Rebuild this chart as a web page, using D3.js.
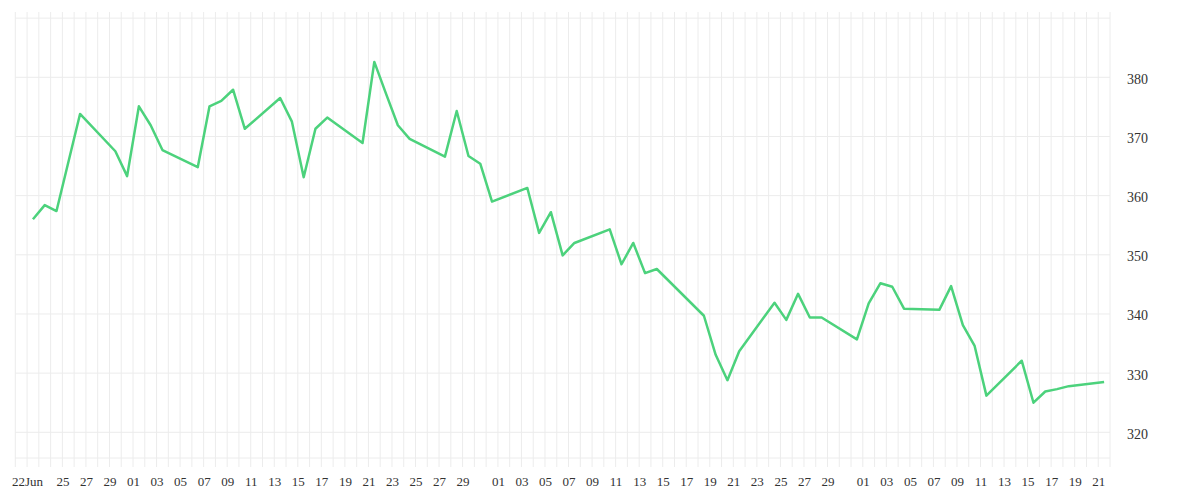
<!DOCTYPE html>
<html>
<head>
<meta charset="utf-8">
<script src="https://cdn.jsdelivr.net/npm/d3@7"></script>
<style>
  body { margin: 0; background: #fff; }
  text { font-family: "Liberation Serif", serif; fill: #333; }
</style>
</head>
<body>
<svg width="1200" height="500"></svg>
<script>
const dates = [
  "2020-06-22", "2020-06-23", "2020-06-24", "2020-06-26", "2020-06-29", "2020-06-30",
  "2020-07-01", "2020-07-02", "2020-07-03", "2020-07-06", "2020-07-07", "2020-07-08",
  "2020-07-09", "2020-07-10", "2020-07-13", "2020-07-14", "2020-07-15", "2020-07-16",
  "2020-07-17", "2020-07-20", "2020-07-21", "2020-07-22", "2020-07-23", "2020-07-24",
  "2020-07-27", "2020-07-28", "2020-07-29", "2020-07-30", "2020-07-31", "2020-08-03",
  "2020-08-04", "2020-08-05", "2020-08-06", "2020-08-07", "2020-08-10", "2020-08-11",
  "2020-08-12", "2020-08-13", "2020-08-14", "2020-08-18", "2020-08-19", "2020-08-20",
  "2020-08-21", "2020-08-24", "2020-08-25", "2020-08-26", "2020-08-27", "2020-08-28",
  "2020-08-31", "2020-09-01", "2020-09-02", "2020-09-03", "2020-09-04", "2020-09-07",
  "2020-09-08", "2020-09-09", "2020-09-10", "2020-09-11", "2020-09-14", "2020-09-15",
  "2020-09-16", "2020-09-17", "2020-09-18", "2020-09-21"
];

const prices = [
  356.0, 358.4, 357.4, 373.8, 367.5, 363.3,
  375.1, 371.9, 367.7, 364.8, 375.1, 376.0,
  377.9, 371.3, 376.5, 372.5, 363.1, 371.3,
  373.2, 368.9, 382.6, 377.2, 371.9, 369.6,
  366.6, 374.3, 366.7, 365.4, 359.0, 361.3,
  353.7, 357.2, 349.9, 352.0, 354.3, 348.4,
  352.0, 346.9, 347.6, 339.7, 333.1, 328.8,
  333.7, 341.9, 339.0, 343.4, 339.4, 339.4,
  335.7, 341.8, 345.2, 344.6, 340.9, 340.7,
  344.7, 338.1, 334.6, 326.2, 332.1, 325.0,
  326.9, 327.3, 327.8, 328.5
];

const xTickDates = [
  "2020-06-22", "2020-06-25", "2020-06-27", "2020-06-29",
  "2020-07-01", "2020-07-03", "2020-07-05", "2020-07-07", "2020-07-09", "2020-07-11",
  "2020-07-13", "2020-07-15", "2020-07-17", "2020-07-19", "2020-07-21", "2020-07-23",
  "2020-07-25", "2020-07-27", "2020-07-29",
  "2020-08-01", "2020-08-03", "2020-08-05", "2020-08-07", "2020-08-09", "2020-08-11",
  "2020-08-13", "2020-08-15", "2020-08-17", "2020-08-19", "2020-08-21", "2020-08-23",
  "2020-08-25", "2020-08-27", "2020-08-29",
  "2020-09-01", "2020-09-03", "2020-09-05", "2020-09-07", "2020-09-09", "2020-09-11",
  "2020-09-13", "2020-09-15", "2020-09-17", "2020-09-19", "2020-09-21"
];

const yTickValues = [320, 330, 340, 350, 360, 370, 380];
const yGridValues = [320, 330, 340, 350, 360, 370, 380, 390];

const parseDay = d3.timeParse("%Y-%m-%d");
const svg = d3.select("svg");

const startDay = parseDay("2020-06-21");
const endDay = parseDay("2020-09-22");

const x = d3.scaleTime().domain([startDay, endDay]).range([15.3, 1110]);
const y = d3.scaleLinear().domain([320, 380]).range([432.3, 77.3]);

const gridColor = "#ececec";

// vertical day lines
svg.append("g")
  .selectAll("line")
  .data(d3.timeDay.range(startDay, d3.timeDay.offset(endDay, 1)))
  .enter()
  .append("line")
  .attr("x1", d => x(d))
  .attr("x2", d => x(d))
  .attr("y1", 12)
  .attr("y2", 467)
  .attr("stroke", gridColor)
  .attr("stroke-width", 1);

// horizontal value lines
svg.append("g")
  .selectAll("line")
  .data(yGridValues)
  .enter()
  .append("line")
  .attr("x1", x(startDay))
  .attr("x2", x(endDay))
  .attr("y1", d => y(d))
  .attr("y2", d => y(d))
  .attr("stroke", gridColor)
  .attr("stroke-width", 1);

svg.append("line")
  .attr("x1", x(startDay))
  .attr("x2", x(endDay))
  .attr("y1", 458)
  .attr("y2", 458)
  .attr("stroke", gridColor);

const points = dates.map((d, i) => ({
  date: d3.timeHour.offset(parseDay(d), 12),
  value: prices[i]
}));

const line = d3.line()
  .x(d => x(d.date))
  .y(d => y(d.value));

svg.append("path")
  .datum(points)
  .attr("fill", "none")
  .attr("stroke", "#4cd27c")
  .attr("stroke-width", 2.5)
  .attr("stroke-linejoin", "round")
  .attr("d", line);

const firstTick = xTickDates[0];
const xAxis = d3.axisBottom(x)
  .tickValues(xTickDates.map(parseDay))
  .tickSize(0)
  .tickPadding(7)
  .tickFormat((d, i) => i === 0 ? d3.timeFormat("%d%b")(d) : d3.timeFormat("%d")(d));

svg.append("g")
  .attr("transform", "translate(0,470)")
  .call(xAxis)
  .call(g => g.select(".domain").remove())
  .selectAll("text")
  .style("font-family", "'Liberation Serif', serif")
  .style("font-size", "13px")
  .attr("fill", "#333");

const yAxis = d3.axisRight(y)
  .tickValues(yTickValues)
  .tickSize(0)
  .tickPadding(17)
  .tickFormat(d3.format("d"));

svg.append("g")
  .attr("transform", "translate(1110,1.5)")
  .call(yAxis)
  .call(g => g.select(".domain").remove())
  .selectAll("text")
  .style("font-family", "'Liberation Serif', serif")
  .style("font-size", "14px")
  .attr("fill", "#333");
</script>
</body>
</html>
